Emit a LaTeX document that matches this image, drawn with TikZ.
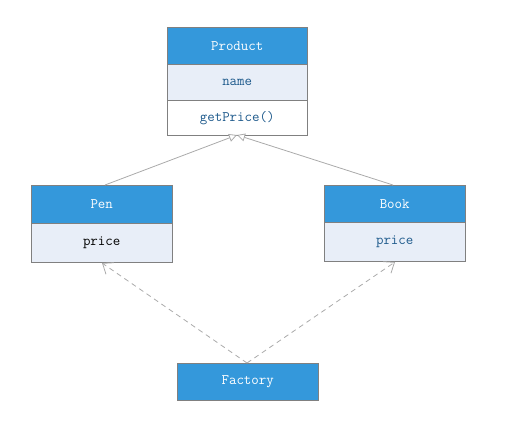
\documentclass[tikz,border=0pt]{standalone}
\usetikzlibrary{arrows.meta}
\definecolor{hdr}{RGB}{52,152,219}
\definecolor{lite}{RGB}{232,238,248}
\definecolor{bord}{RGB}{128,128,128}
\definecolor{txt}{RGB}{30,90,140}
\definecolor{lnk}{RGB}{170,170,170}
\tikzset{
  boxfont/.style={font=\ttfamily\fontsize{14.5}{16}\selectfont},
  hdrbox/.style={draw=bord, fill=hdr, text=white, boxfont, inner sep=0pt, anchor=north west},
  litebox/.style={draw=bord, fill=lite, text=txt, boxfont, inner sep=0pt, anchor=north west},
  whitebox/.style={draw=bord, fill=white, text=txt, boxfont, inner sep=0pt, anchor=north west},
  inherit/.style={draw=lnk, line width=0.8pt, -{Triangle[open, length=8pt, width=8pt, fill=white]}},
  depend/.style={draw=lnk, line width=0.8pt, dashed, dash pattern=on 5pt off 4pt, -{Straight Barb[length=9pt, width=14pt]}}
}
\begin{document}
\begin{tikzpicture}[x=1pt, y=-1pt]
\useasboundingbox (0,0) rectangle (511,439);
% Product
\node[hdrbox, minimum width=140pt, minimum height=37pt] (ph) at (167,27) {Product};
\node[litebox, minimum width=140pt, minimum height=36pt] (pn) at (167,64) {name};
\node[whitebox, minimum width=140pt, minimum height=35pt] (pm) at (167,100) {getPrice()};
% Pen
\node[hdrbox, minimum width=141pt, minimum height=38pt] (penh) at (31,185) {Pen};
\node[litebox, text=black, minimum width=141pt, minimum height=39pt] (penp) at (31,223) {price};
% Book
\node[hdrbox, minimum width=141pt, minimum height=37pt] (bookh) at (324,185) {Book};
\node[litebox, minimum width=141pt, minimum height=39pt] (bookp) at (324,222) {price};
% Factory
\node[hdrbox, minimum width=141pt, minimum height=37pt] (fac) at (177,363) {Factory};
% coordinates
\coordinate (ptip) at (237,135);
\coordinate (pent) at (105,185);
\coordinate (bookt) at (393,185);
\coordinate (penb) at (102,263);
\coordinate (bookb) at (395,262);
\coordinate (fact) at (247,363);
\draw[inherit] (pent) -- (ptip);
\draw[inherit] (bookt) -- (ptip);
\draw[depend] (fact) -- (penb);
\draw[depend] (fact) -- (bookb);
\end{tikzpicture}
\end{document}
